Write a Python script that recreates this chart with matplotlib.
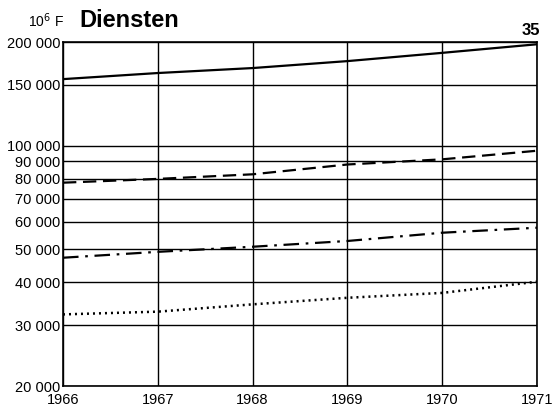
import matplotlib
matplotlib.use("Agg")
import matplotlib.pyplot as plt
from matplotlib.ticker import FixedLocator, NullLocator

plt.rcParams['font.family'] = ['Liberation Sans', 'DejaVu Sans']

years = [1966, 1967, 1968, 1969, 1970, 1971]
solid = [156000, 162500, 168000, 176000, 186000, 197000]
dashed = [78000, 80000, 82500, 88100, 91200, 96600]
dashdot = [47200, 49100, 50800, 52800, 55800, 57700]
dotted = [32300, 32900, 34550, 36100, 37300, 40200]

ytick_vals = [20000, 30000, 40000, 50000, 60000, 70000, 80000, 90000, 100000, 150000, 200000]
ytick_labels = ['20 000', '30 000', '40 000', '50 000', '60 000', '70 000', '80 000',
                '90 000', '100 000', '150 000', '200 000']

fig = plt.figure(figsize=(5.6, 4.09), dpi=100)
ax = fig.add_axes([0.1125, 0.0562, 0.8465, 0.8411])
ax.set_yscale('log')
ax.set_xlim(1966, 1971)
ax.set_ylim(20000, 200000)

ax.plot(years, solid, color='black', lw=1.6, ls='-')
ax.plot(years, dashed, color='black', lw=1.6, ls=(0, (6, 3)))
ax.plot(years, dashdot, color='black', lw=1.6, ls=(0, (7, 3, 1.2, 3)))
ax.plot(years, dotted, color='black', lw=1.8, ls=(0, (0.8, 1.6)))

ax.yaxis.set_major_locator(FixedLocator(ytick_vals))
ax.yaxis.set_minor_locator(NullLocator())
ax.set_yticks(ytick_vals)
ax.set_yticklabels(ytick_labels, fontsize=10.5)
ax.set_xticks(years)
ax.set_xticklabels([str(y) for y in years], fontsize=10.5)
ax.tick_params(axis='y', length=0, pad=2)
ax.tick_params(axis='x', length=0, pad=5)
ax.grid(True, which='major', color='black', lw=1.0)
for s in ax.spines.values():
    s.set_linewidth(1.2)

fig.text(0.05, 0.934, '10$^6$ F', fontsize=10, ha='left', va='baseline')
fig.text(0.141, 0.934, 'Diensten', fontsize=17, fontweight='bold', ha='left', va='baseline')
fig.text(0.964, 0.914, '35', fontsize=12, fontweight='bold', ha='right', va='baseline')

fig.savefig('out.png', dpi=100)
